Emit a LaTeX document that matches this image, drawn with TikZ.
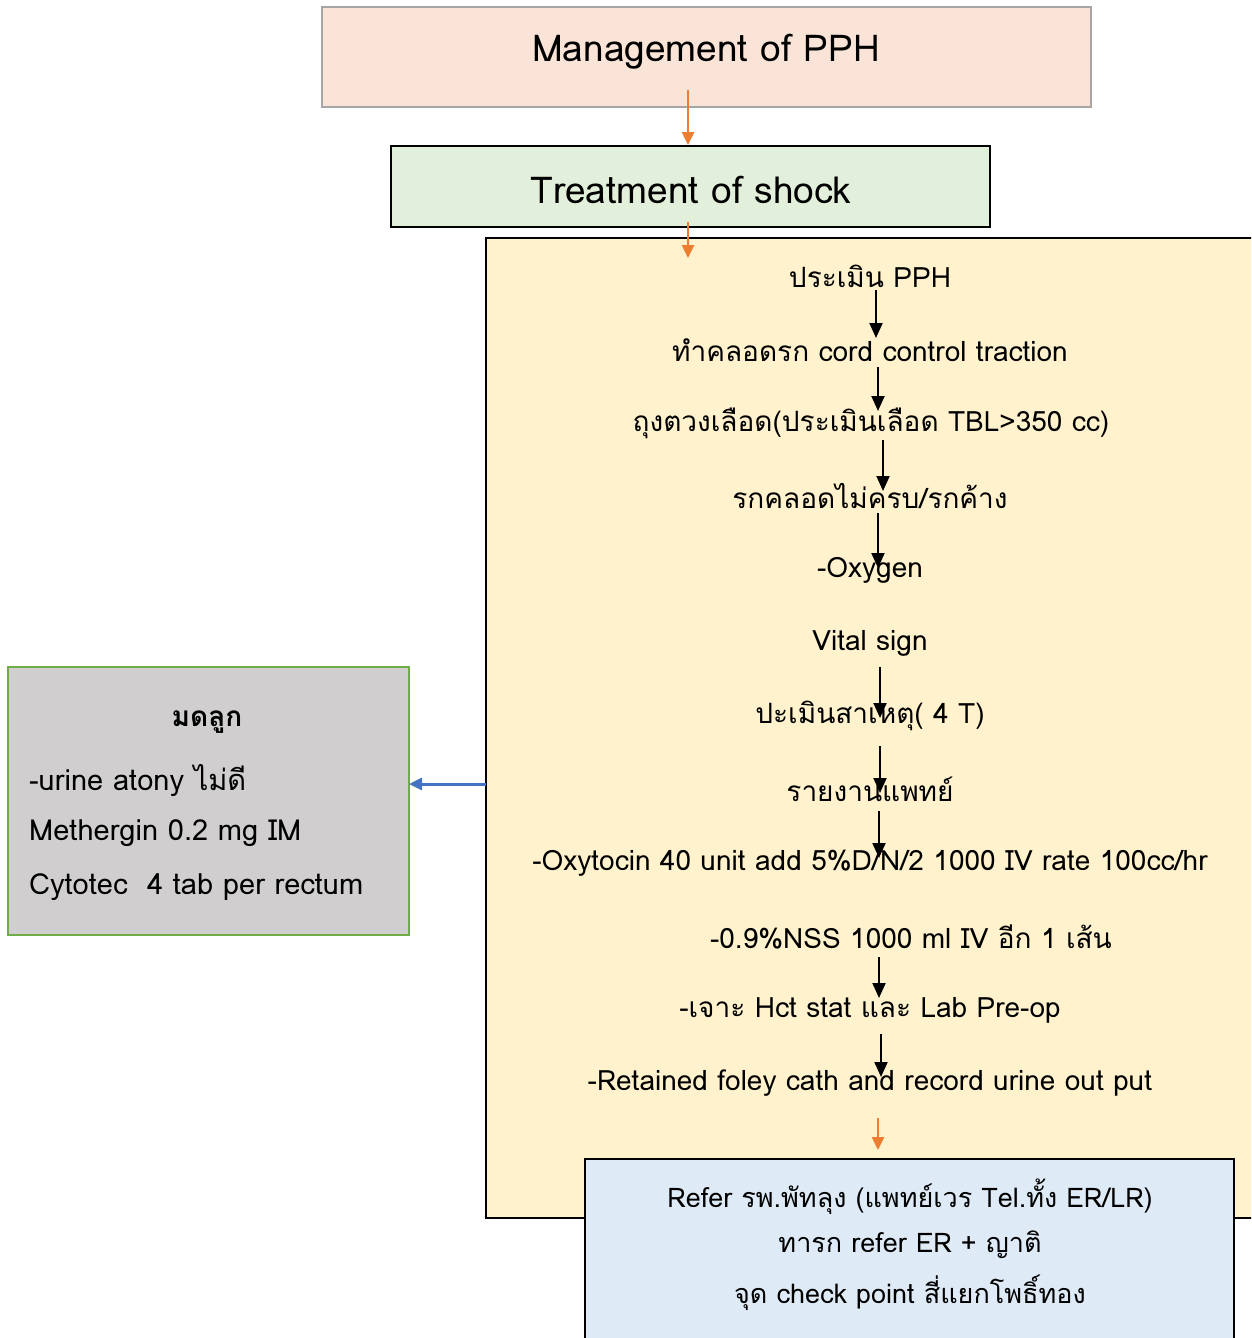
\documentclass[tikz,border=0pt]{standalone}
\usepackage{fontspec}
\setmainfont{Loma}[Script=Thai]
\usetikzlibrary{arrows.meta}
\definecolor{peach}{HTML}{FAE3D7}
\definecolor{greenfill}{HTML}{E2EFDA}
\definecolor{yellowfill}{HTML}{FFF2CC}
\definecolor{grayfill}{HTML}{D0CECE}
\definecolor{bluefill}{HTML}{DEEBF7}
\definecolor{boxgreen}{HTML}{70AD47}
\definecolor{arrorange}{HTML}{ED7D31}
\definecolor{arrblue}{HTML}{4472C4}
\definecolor{graybd}{HTML}{A6A6A6}
\tikzset{
  boxa/.style={line width=2pt},
  steptext/.style={font=\fontsize{28}{32}\selectfont, inner sep=0pt, anchor=center},
  reftext/.style={font=\fontsize{27}{32}\selectfont, inner sep=0pt, anchor=center},
  lefttext/.style={font=\fontsize{29}{34}\selectfont, inner sep=0pt, anchor=west},
  blk/.style={line width=2pt, -{Triangle[length=15pt,width=13pt]}},
  org/.style={line width=2.5pt, arrorange, -{Triangle[length=13pt,width=12pt]}},
  blu/.style={line width=3pt, arrblue, -{Triangle[length=13pt,width=12pt]}},
}
\begin{document}
\begin{tikzpicture}[x=1pt,y=-1pt]
\useasboundingbox (0,0) rectangle (1251,1338);
\begin{scope}
\clip (0,0) rectangle (1251,1338);
% boxes
\draw[boxa, draw=graybd, fill=peach] (322,7) rectangle (1091,107);
\draw[boxa, fill=greenfill] (391,146) rectangle (990,227);
\draw[boxa, fill=yellowfill] (486,238) rectangle (1262,1218);
\draw[boxa, draw=boxgreen, fill=grayfill] (8,667) rectangle (409,935);
\draw[boxa, fill=bluefill] (585,1159) rectangle (1234,1350);
\end{scope}

\node[font=\fontsize{37}{42}\selectfont] (title) at (706,52) {Management of PPH};
\node[font=\fontsize{37}{42}\selectfont] (shock) at (691,190) {Treatment of shock};

\node[steptext] (s1) at (870,276) {ประเมิน PPH};
\node[steptext] (s2) at (870,350) {ทำคลอดรก cord control traction};
\node[steptext] (s3) at (871,423) {ถุงตวงเลือด(ประเมินเลือด TBL>350 cc)};
\node[steptext] (s4) at (870,496) {รกคลอดไม่ครบ/รกค้าง};
\node[steptext] (s5) at (870,570) {-Oxygen};
\node[steptext] (s6) at (870,643) {Vital sign};
\node[steptext] (s7) at (870,716) {ปะเมินสาเหตุ( 4 T)};
\node[steptext] (s8) at (870,789) {รายงานแพทย์};
\node[steptext] (s9) at (870,863) {-Oxytocin 40 unit add 5\%D/N/2 1000 IV rate 100cc/hr};
\node[steptext] (s10) at (911,937) {-0.9\%NSS 1000 ml IV อีก 1 เส้น};
\node[steptext] (s11) at (870,1010) {-เจาะ Hct stat และ Lab Pre-op};
\node[steptext] (s12) at (870,1083) {-Retained foley cath and record urine out put};

% left box text
\node[font=\fontsize{28}{32}\selectfont\bfseries, inner sep=0pt] (ut) at (207,722) {มดลูก};
\node[lefttext] (l1) at (29,780) {-urine atony ไม่ดี};
\node[lefttext] (l2) at (29,833) {Methergin 0.2 mg IM};
\node[lefttext] (l3) at (29,887) {Cytotec\ \ 4 tab per rectum};

% bottom box text
\node[reftext] (b1) at (910,1197) {Refer รพ.พัทลุง (แพทย์เวร Tel.ทั้ง ER/LR)};
\node[reftext] (b2) at (910,1245) {ทารก refer ER + ญาติ};
\node[reftext] (b3) at (910,1293) {จุด check point สี่แยกโพธิ์ทอง};

% connector coordinates
\coordinate (o1s) at (688,90);  \coordinate (o1e) at (688,145);
\coordinate (o2s) at (688,222); \coordinate (o2e) at (688,258);
\coordinate (o3s) at (878,1118);\coordinate (o3e) at (878,1150);
\coordinate (ys) at (486,784);  \coordinate (ye) at (409,784);

\draw[org] (o1s) -- (o1e);
\draw[org] (o2s) -- (o2e);
\draw[org] (o3s) -- (o3e);
\draw[blu] (ys) -- (ye);

\draw[blk] (876,290) -- (876,338);
\draw[blk] (878,367) -- (878,411);
\draw[blk] (883,440) -- (883,491);
\draw[blk] (878,513) -- (878,568);
\draw[blk] (880,667) -- (880,718);
\draw[blk] (880,746) -- (880,793);
\draw[blk] (879,811) -- (879,858);
\draw[blk] (879,957) -- (879,998);
\draw[blk] (881,1034) -- (881,1077);
\end{tikzpicture}
\end{document}
